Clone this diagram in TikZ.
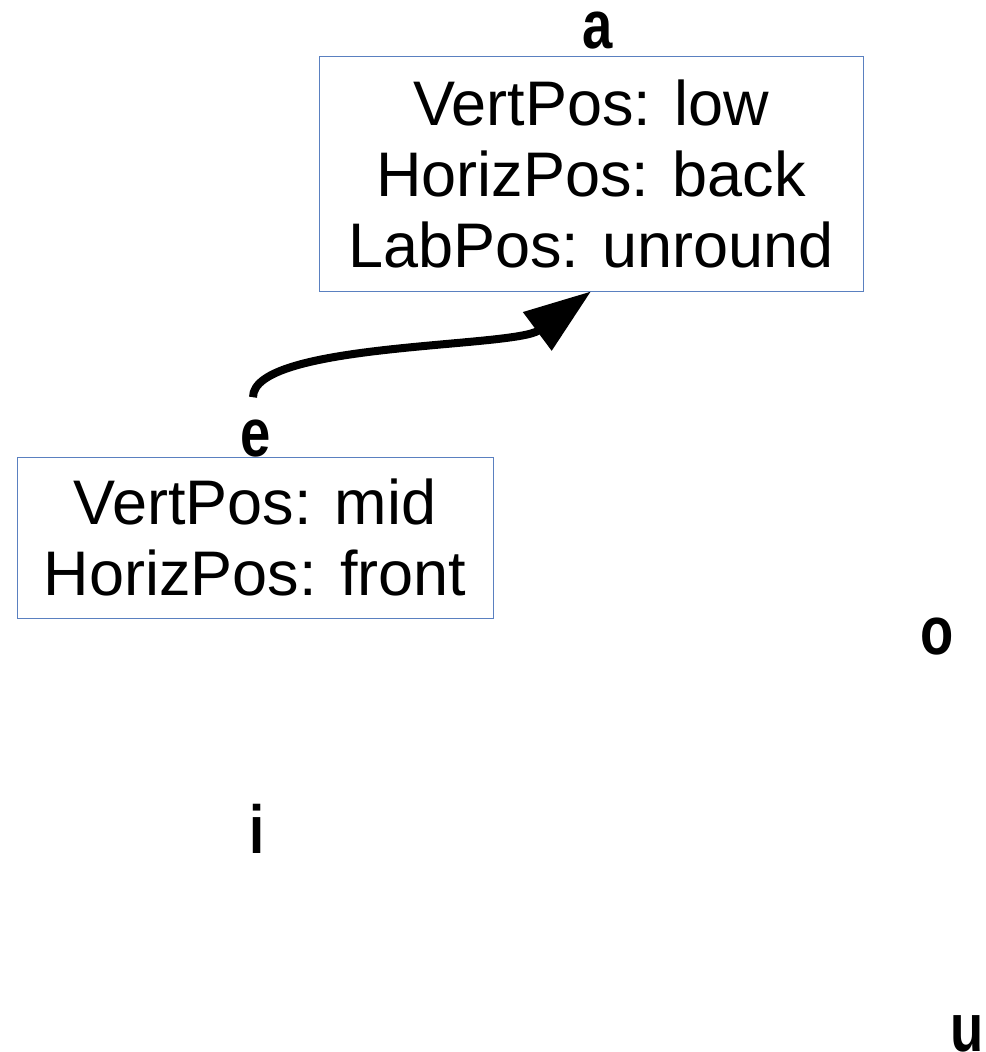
\documentclass[tikz,border=0pt]{standalone}
\usepackage{fontspec}
\setmainfont{Liberation Sans}
\newfontfamily\labfont{Liberation Sans}[FakeStretch=0.8]
\usetikzlibrary{arrows.meta}
\definecolor{boxblue}{RGB}{90,128,192}
\tikzset{
  infobox/.style={draw=boxblue, line width=0.8bp, align=center, inner sep=0pt,
    font=\fontsize{63bp}{71bp}\selectfont},
  vowel/.style={inner sep=0pt, anchor=base, font=\labfont\bfseries\fontsize{68bp}{70bp}\selectfont},
  conn/.style={line width=8bp, -{Triangle[length=67bp,width=46bp]}}
}
\begin{document}
\begin{tikzpicture}[x=1bp,y=-1bp]
\useasboundingbox (0,0) rectangle (986,1052);
\node[infobox, minimum width=544bp, minimum height=235bp] (abox) at (591,173.5)
  {VertPos: low\\HorizPos: back\\LabPos: unround};
\node[infobox, minimum width=476bp, minimum height=161bp] (ebox) at (255,537.5)
  {VertPos: mid\\HorizPos: front};
\node[vowel] (a) at (598,48) {a};
\node[vowel] (e) at (256,456) {e};
\node[vowel] (o) at (937,654) {o};
\node[vowel] (i) at (257,853) {i};
\node[vowel] (u) at (967,1051) {u};
\draw[conn] ([xshift=-3bp,yshift=22bp]e.north) .. controls +(0,-55) and (515,348) .. (abox.south);
\end{tikzpicture}
\end{document}
